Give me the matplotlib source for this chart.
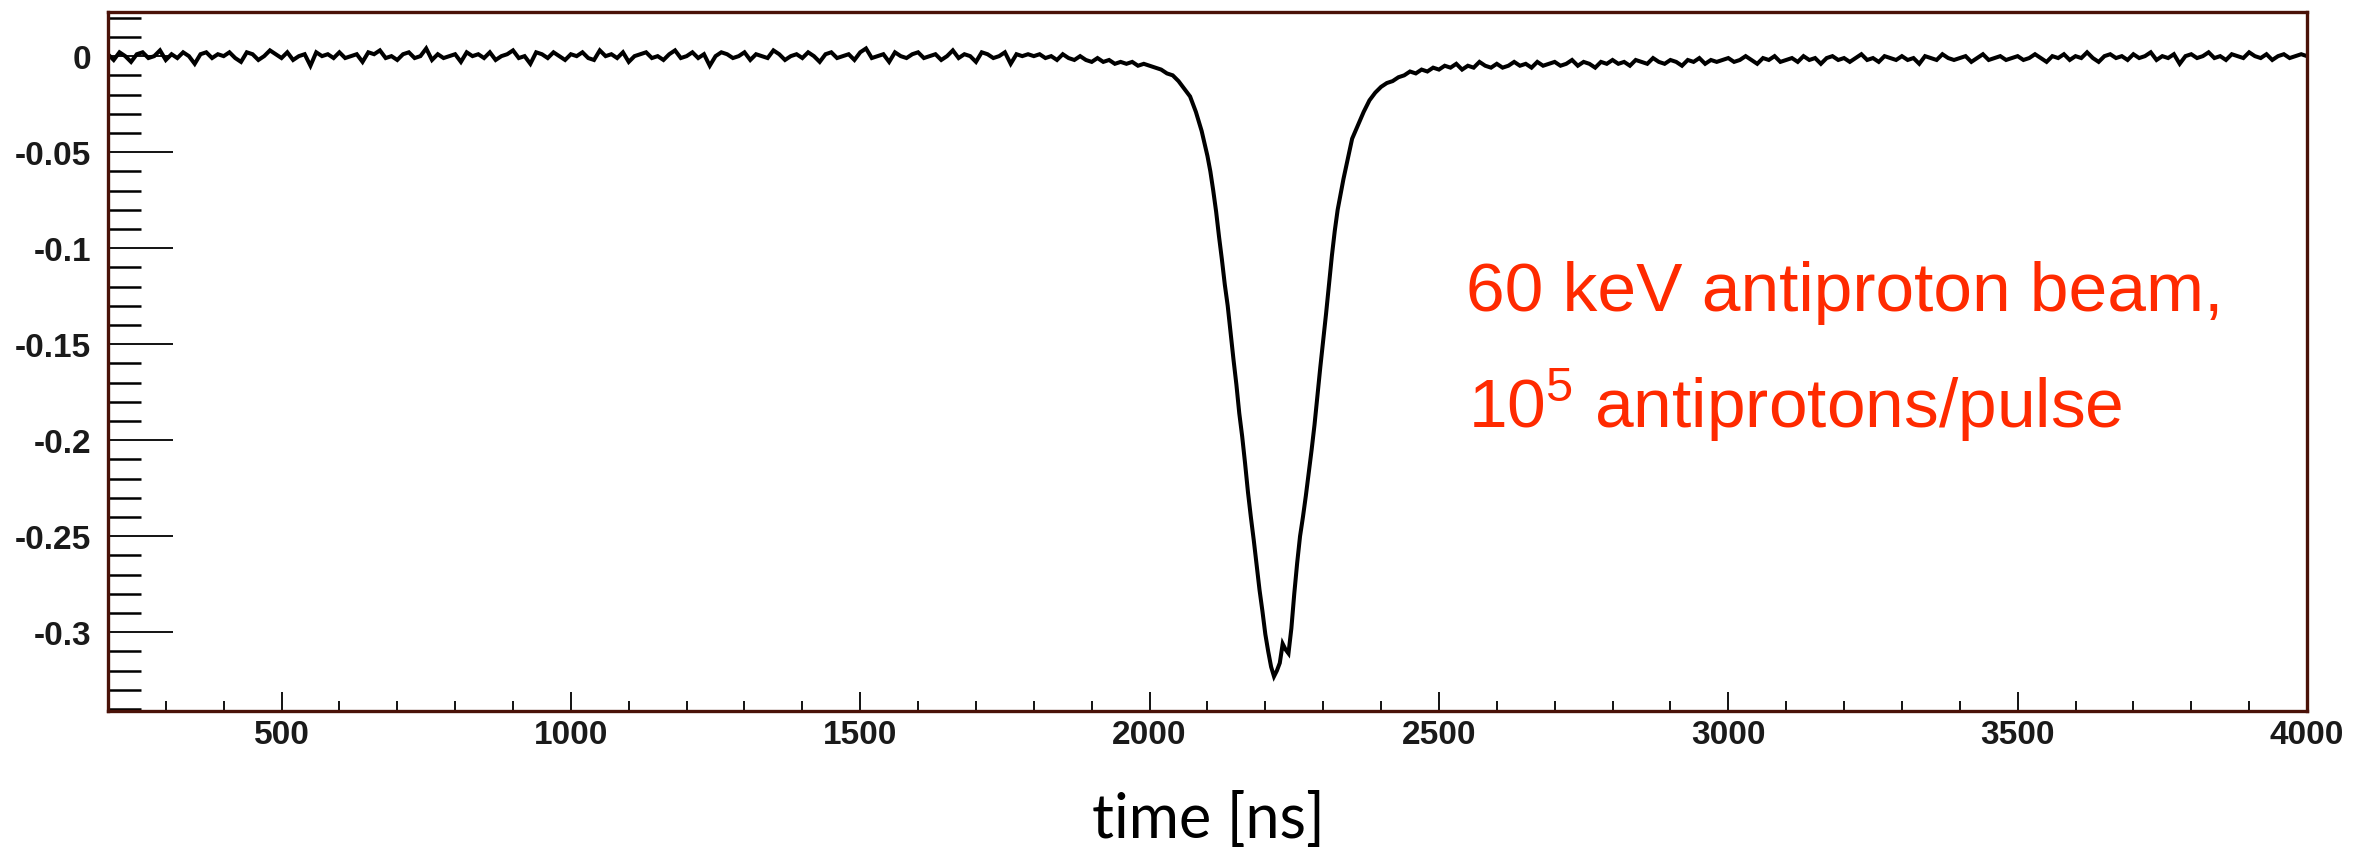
import numpy as np
import matplotlib
matplotlib.use('Agg')
import matplotlib.pyplot as plt
from matplotlib.ticker import MultipleLocator

plt.rcParams['axes.unicode_minus'] = False

# scope trace, values in mV
# flat part + rising shoulder, 200..2090 ns every 10 ns
t_pre = np.arange(200, 2100, 10)
pre_mv = [
    1, -2, 2, 0, -3, 1, 2, -1, 0, 3, -2, 1, -1, 2, 0, -4, 1, 2, -1, 1,
    0, 2, -1, -3, 2, 1, -2, 0, 3, 1, -1, 2, -2, 0, 1, -5, 2, 0, 1, -1,
    2, -1, 0, 1, -3, 2, 1, 3, -1, 0, -2, 1, 2, -1, 0, 4, -2, 1, -1, 0,
    1, -3, 2, 0, 1, -1, 2, -2, 0, 1, 3, -1, 0, -4, 2, 1, -1, 2, 0, -2,
    1, 0, 2, -1, -2, 3, 0, 1, -1, 2, -3, 0, 1, 2, -1, 0, -2, 1, 3, -1,
    0, 2, -1, 1, -5, 0, 2, 1, -1, 0, 2, -2, 1, 0, -1, 3, 1, -2, 0, 1,
    -1, 2, 0, -3, 1, 2, -1, 0, 1, -2, 2, 4, -1, 0, 1, -3, 2, 0, -1, 1,
    2, -1, 0, 1, -2, 0, 3, -1, 1, 0, -3, 2, 1, -1, 0, 2, -4, 1, 0, 1,
    0, 1, -1, 0, -2, 1, -1, -2, 0, -2, -3, -1, -3, -2, -4,
    -3, -4, -3, -5, -4, -5, -6, -7, -9, -10, -13, -17, -21, -29, -39,
]
# the pulse, 2100..2350 ns every 5 ns
t_dip = np.arange(2100, 2355, 5)
dip_mv = [
    -52, -60, -70, -81, -94, -106, -119, -130, -144, -158,
    -171, -186, -198, -212, -227, -240, -252, -265, -278, -289,
    -301, -310, -318, -323, -320, -316, -306, -309, -311, -298,
    -280, -264, -250, -240, -229, -217, -205, -192, -177, -162,
    -148, -134, -119, -104, -91, -80, -72, -64, -57, -50,
    -43,
]
# tail and baseline, 2360..4000 ns every 10 ns
t_post = np.arange(2360, 4010, 10)
post_mv = [
    -36, -29, -23, -19, -16, -14, -13, -11, -10, -8, -9, -7, -8, -6,
    -7, -5, -6, -4, -7, -5, -6, -3, -5, -6, -4, -6, -5, -3, -5, -4, -6, -3, -5, -4,
    -3, -5, -4, -2, -5, -3, -4, -6, -3, -4, -2, -4, -3, -5, -2, -3, -4, -1, -3, -4,
    -2, -3, -5, -2, -3, -1, -4, -2, -3, -2,
    -1, -3, -2, 0, -2, -4, -1, -2, 0, -3, -2, -1, -3, 0, -2, -1, -4, -1, 0, -2,
    -1, -3, -1, 1, -2, -1, -3, 0, -1, -2, 0, -2, -1, -4, 0, -1, -2, 1, -1, -2,
    -1, 0, -3, -1, 1, -2, -1, 0, -2, -1,
    0, -2, -1, 1, -1, -3, 0, -1, 1, -2, 0, -1, 2, -1, -3, 0, 1, -1, 0, -2,
    1, -1, 0, 2, -2, 0, -1, 1, -4, 0, 1, -1, 0, 2, -1, 0, -2, 1, 0, -1,
    2, 0, -1, 1, -2, 0, 1, -1, 0, 1, 0,
]

x_ticks = [500, 1000, 1500, 2000, 2500, 3000, 3500, 4000]
x_labels = ['500', '1000', '1500', '2000', '2500', '3000', '3500', '4000']
y_ticks = [0, -0.05, -0.1, -0.15, -0.2, -0.25, -0.3]
y_labels = ['0', '-0.05', '-0.1', '-0.15', '-0.2', '-0.25', '-0.3']

t = np.concatenate([t_pre, t_dip, t_post])
v = np.concatenate([pre_mv, dip_mv, post_mv]) / 1000.0

fig = plt.figure(figsize=(23.56, 8.53), dpi=100)
ax = fig.add_axes([0.0458, 0.1653, 0.9334, 0.8195])

ax.plot(t, v, color='black', lw=2.9, solid_joinstyle='miter')

ax.set_xlim(200, 4000)
ax.set_ylim(-0.341, 0.023)

frame = '#4a1208'
for s in ax.spines.values():
    s.set_color(frame)
    s.set_linewidth(2.4)

ax.set_xticks(x_ticks)
ax.set_xticklabels(x_labels)
ax.set_yticks(y_ticks)
ax.set_yticklabels(y_labels)
ax.xaxis.set_minor_locator(MultipleLocator(100))
ax.yaxis.set_minor_locator(MultipleLocator(0.01))

ax.tick_params(axis='x', which='major', direction='in', length=14, width=1.3,
               top=False, pad=6, labelsize=24)
ax.tick_params(axis='x', which='minor', direction='in', length=7, width=1.3, top=False)
ax.tick_params(axis='y', which='major', direction='in', length=47, width=1.3,
               right=False, pad=12, labelsize=24)
ax.tick_params(axis='y', which='minor', direction='in', length=24, width=1.8, right=False)
for lab in ax.get_xticklabels() + ax.get_yticklabels():
    lab.set_fontfamily('Liberation Sans')
    lab.set_fontweight('bold')
    lab.set_color('#1a1a1a')

# annotation in red
red = '#ff2a00'
fig.text(1466 / 2356, 1 - 311 / 853, '60 keV antiproton beam,', color=red,
         fontsize=50, family='Liberation Sans', ha='left', va='baseline')
fig.text(1468 / 2356, 1 - 428 / 853, r'10$^{\mathregular{5}}$ antiprotons/pulse', color=red,
         fontsize=50, family='Liberation Sans', ha='left', va='baseline')

fig.text(1208 / 2356, 1 - 838 / 853, 'time [ns]', fontsize=44, family='Lato',
         ha='center', va='baseline', color='black')

fig.savefig('out.png', dpi=100)
